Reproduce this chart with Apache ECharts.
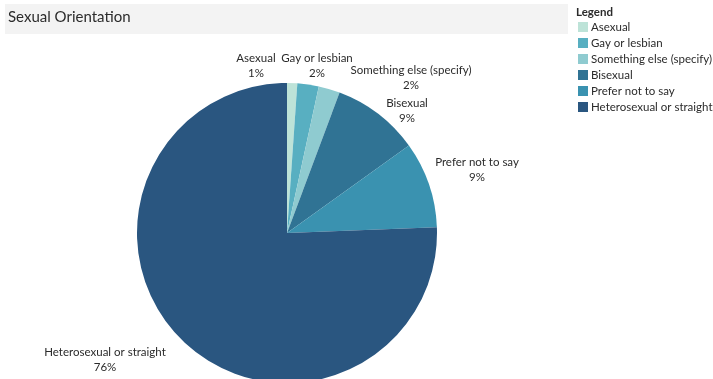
<!DOCTYPE html>
<html>
<head>
<meta charset="utf-8">
<script src="https://cdn.jsdelivr.net/npm/echarts@6/dist/echarts.min.js"></script>
<style>
  html, body { margin: 0; padding: 0; background: #ffffff; }
  #chart { width: 713px; height: 379px; }
</style>
</head>
<body>
<div id="chart"></div>
<script>
// Survey responses (counts per 1000) for sexual orientation
const categories = [
  'Asexual',
  'Gay or lesbian',
  'Something else (specify)',
  'Bisexual',
  'Prefer not to say',
  'Heterosexual or straight'
];
const counts = [11, 23, 23, 94, 93, 756];

// Slice colours, in category order
const palette = ['#bde3d8', '#58afc1', '#8fcbd0', '#307394', '#3a92b0', '#2a5680'];

// Label anchor points (centre of each two-line label)
const labelAnchors = [
  [256, 66], [317, 66], [411, 78], [407, 111], [477, 170], [105, 360]
];

const font = 'Lato, "Open Sans", sans-serif';
const textColor = '#2b2b2b';
const chart = echarts.init(document.getElementById('chart'), null, { renderer: 'canvas' });

chart.setOption({
  animation: false,
  graphic: [
    { type: 'rect', shape: { x: 5, y: 4, width: 563, height: 30 }, style: { fill: '#f3f3f3' }, z: 0 },
    { type: 'text', left: 8, top: 10,
      style: { text: 'Sexual Orientation', fill: textColor, font: '15px ' + font } },
    { type: 'text', left: 576, top: 6,
      style: { text: 'Legend', fill: textColor, font: 'bold 11.5px ' + font } }
  ],
  legend: {
    orient: 'vertical',
    left: 578,
    top: 20,
    padding: 0,
    itemWidth: 10,
    itemHeight: 10,
    itemGap: 2,
    icon: 'rect',
    selectedMode: false,
    data: categories,
    textStyle: { color: textColor, fontSize: 11.5, fontFamily: font, lineHeight: 14, padding: [0, 0, 0, -2] }
  },
  series: [{
    type: 'pie',
    center: [287, 233],
    radius: 150,
    startAngle: 90,
    clockwise: true,
    avoidLabelOverlap: false,
    percentPrecision: 2,
    itemStyle: { borderWidth: 0 },
    label: {
      show: true,
      position: 'outside',
      formatter: function (p) { return p.name + '\n' + Math.round(p.percent) + '%'; },
      color: textColor,
      fontSize: 11.5,
      fontFamily: font,
      lineHeight: 15,
      align: 'center'
    },
    labelLine: { show: false },
    labelLayout: function (p) {
      const a = labelAnchors[p.dataIndex];
      return { x: a[0], y: a[1], align: 'center', verticalAlign: 'middle' };
    },
    emphasis: { disabled: true },
    data: categories.map((name, i) => ({
      name: name,
      value: counts[i],
      itemStyle: { color: palette[i] }
    }))
  }]
});
</script>
</body>
</html>
